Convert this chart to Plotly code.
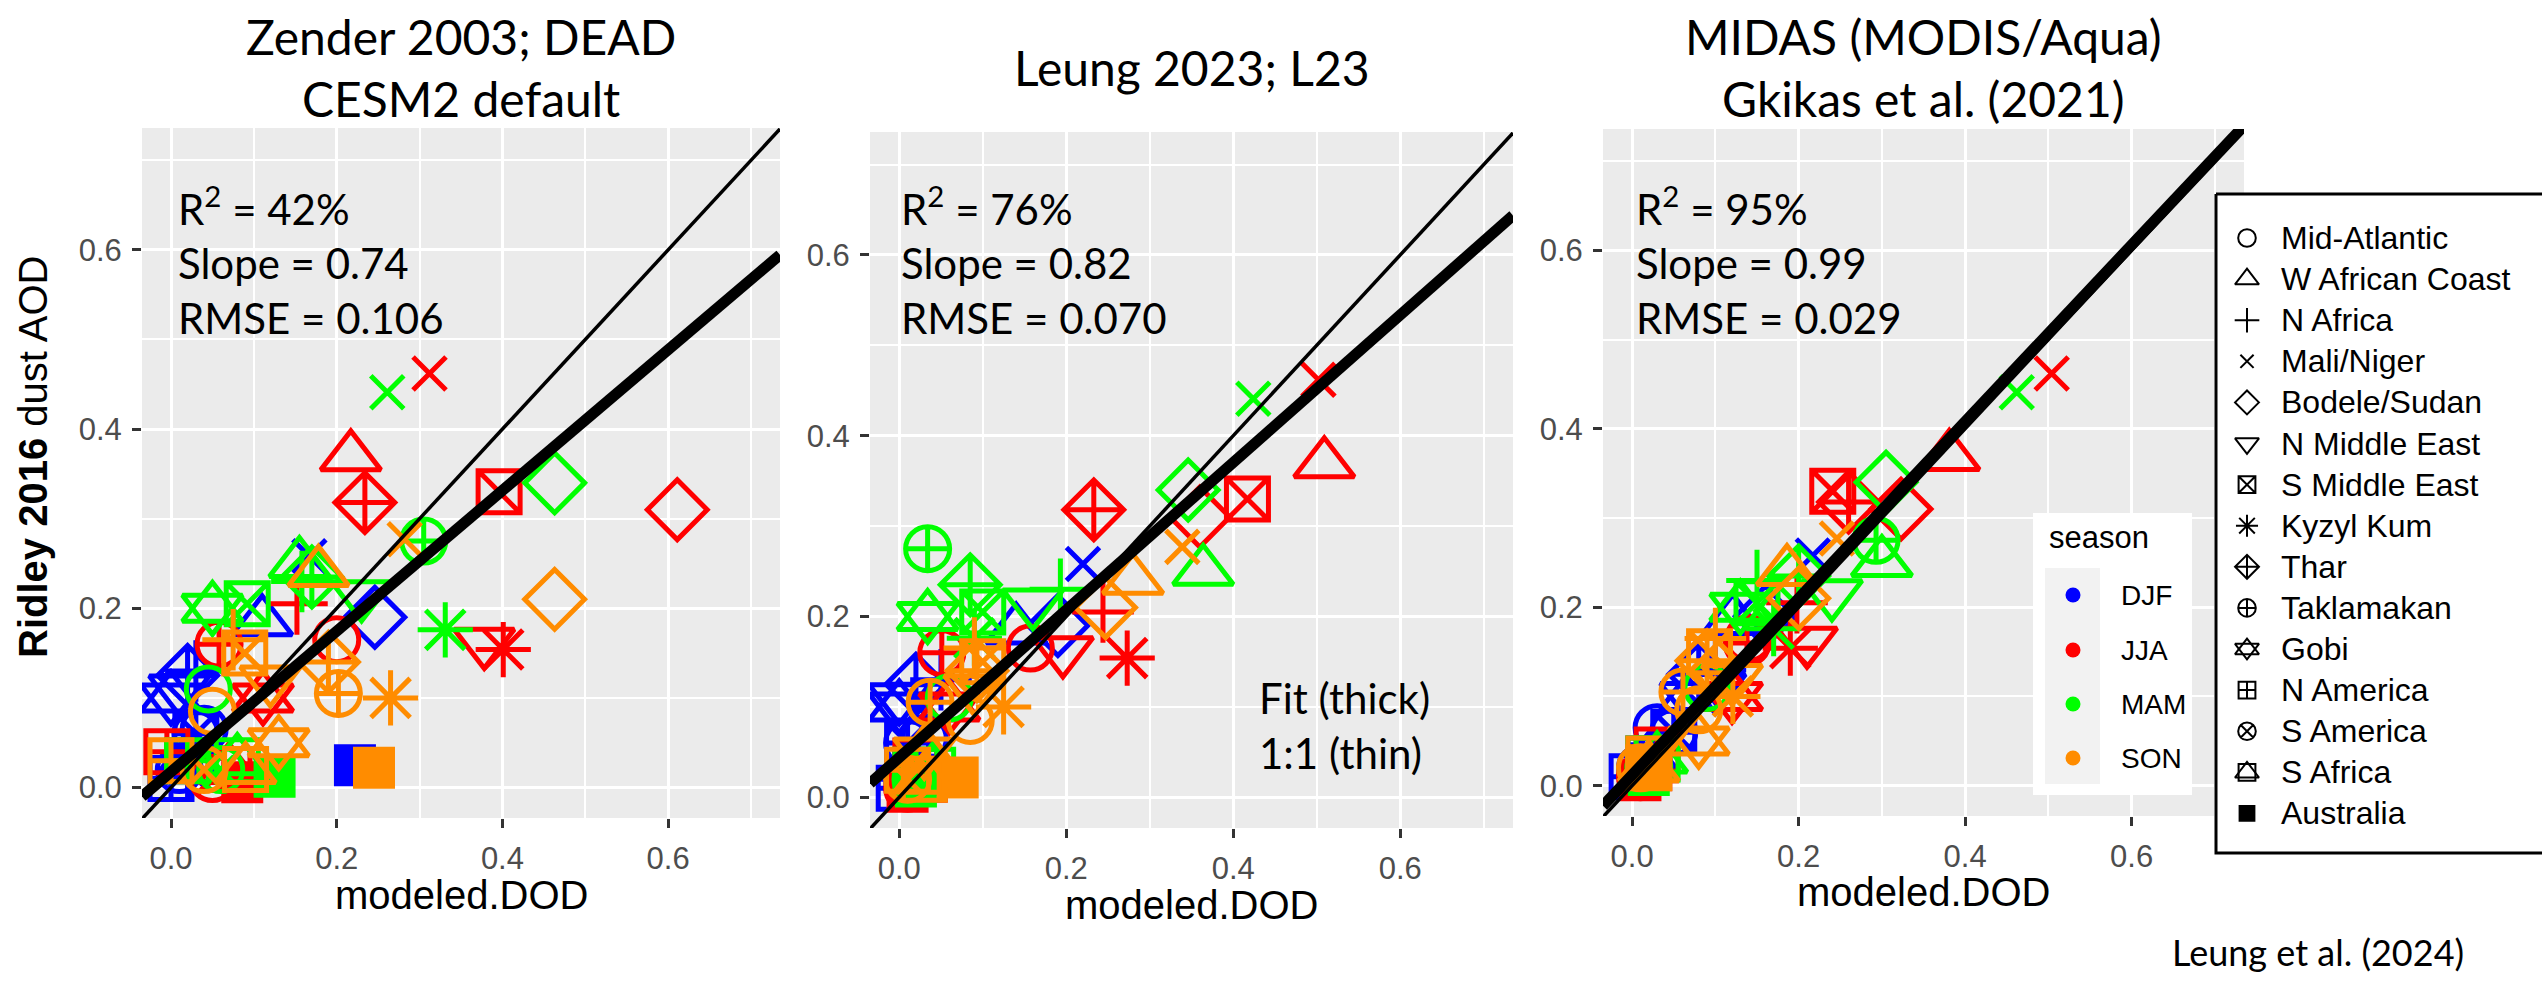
import plotly.graph_objects as go

W, H = 2542, 987

# ---------------- data ----------------
regions = ["Mid-Atlantic", "W African Coast", "N Africa", "Mali/Niger", "Bodele/Sudan",
           "N Middle East", "S Middle East", "Kyzyl Kum", "Thar", "Taklamakan",
           "Gobi", "N America", "S America", "S Africa", "Australia"]
seasons = ["DJF", "JJA", "MAM", "SON"]

# observed (Ridley 2016) dust AOD, per season, region order as above
obs_djf = [0.065, 0.185, 0.13, 0.258, 0.19, 0.11, 0.06, 0.02, 0.125, 0.06, 0.10, 0.01, 0.02, 0.03, 0.025]
obs_jja = [0.165, 0.369, 0.205, 0.462, 0.31, 0.162, 0.33, 0.154, 0.318, 0.16, 0.10, 0.04, 0.01, 0.02, 0.006]
obs_mam = [0.11, 0.25, 0.23, 0.441, 0.34, 0.215, 0.205, 0.176, 0.235, 0.275, 0.20, 0.03, 0.02, 0.03, 0.012]
obs_son = [0.085, 0.24, 0.165, 0.277, 0.21, 0.12, 0.15, 0.10, 0.14, 0.105, 0.05, 0.03, 0.02, 0.02, 0.022]

# modeled DOD, panel 1 (Zender 2003; DEAD)
dead_djf = [0.04, 0.11, 0.03, 0.167, 0.246, 0.01, 0.03, 0.02, 0.02, 0.03, 0.0, 0.0, 0.01, 0.02, 0.222]
dead_jja = [0.20, 0.217, 0.152, 0.312, 0.611, 0.378, 0.396, 0.401, 0.234, 0.058, 0.111, -0.005, 0.05, 0.07, 0.086]
dead_mam = [0.045, 0.155, 0.158, 0.261, 0.463, 0.23, 0.092, 0.331, 0.17, 0.305, 0.05, 0.02, 0.06, 0.08, 0.125]
dead_son = [0.05, 0.178, 0.075, 0.282, 0.463, 0.12, 0.089, 0.265, 0.19, 0.202, 0.13, 0.0, 0.04, 0.09, 0.245]

# modeled DOD, panel 2 (Leung 2023; L23)
l23_djf = [0.03, 0.14, 0.05, 0.22, 0.19, 0.0, 0.01, 0.01, 0.02, 0.01, 0.0, 0.0, 0.01, 0.02, 0.03]
l23_jja = [0.157, 0.509, 0.244, 0.502, 0.36, 0.196, 0.417, 0.273, 0.233, 0.051, 0.06, 0.02, 0.01, 0.03, 0.01]
l23_mam = [0.06, 0.364, 0.193, 0.424, 0.346, 0.16, 0.10, 0.09, 0.085, 0.034, 0.034, 0.02, 0.02, 0.04, 0.02]
l23_son = [0.085, 0.28, 0.09, 0.339, 0.247, 0.09, 0.10, 0.125, 0.093, 0.037, 0.03, 0.01, 0.01, 0.03, 0.07]

# MIDAS DOD, panel 3
midas_djf = [0.03, 0.121, 0.10, 0.217, 0.16, 0.10, 0.05, 0.02, 0.08, 0.05, 0.07, 0.0, 0.01, 0.02, 0.02]
midas_jja = [0.14, 0.381, 0.198, 0.504, 0.323, 0.21, 0.241, 0.19, 0.26, 0.138, 0.12, 0.03, 0.01, 0.02, 0.01]
midas_mam = [0.09, 0.30, 0.15, 0.462, 0.305, 0.24, 0.15, 0.17, 0.20, 0.293, 0.13, 0.02, 0.02, 0.03, 0.02]
midas_son = [0.08, 0.186, 0.10, 0.246, 0.20, 0.12, 0.093, 0.121, 0.09, 0.061, 0.08, 0.02, 0.01, 0.02, 0.02]

panel_titles = ["Zender 2003; DEAD<br>CESM2 default", "Leung 2023; L23",
                "MIDAS (MODIS/Aqua)<br>Gkikas et al. (2021)"]
r2_text = ["42%", "76%", "95%"]
slope_text = ["0.74", "0.82", "0.99"]
rmse_text = ["0.106", "0.070", "0.029"]
fit_slope = [0.785, 0.816, 0.99]
fit_intercept = [0.0175, 0.044, 0.012]
tick_vals = [0.0, 0.2, 0.4, 0.6]
tick_text = ["0.0", "0.2", "0.4", "0.6"]
minor_vals = [0.1, 0.3, 0.5, 0.7]
x_title = "modeled.DOD"
y_title = "<b>Ridley 2016</b> dust AOD"
credit = "Leung et al. (2024)"
fit_note = "Fit (thick)<br>1:1 (thin)"
legend_title = "season"

obs = {"DJF": obs_djf, "JJA": obs_jja, "MAM": obs_mam, "SON": obs_son}
panel_x = [
    {"DJF": dead_djf, "JJA": dead_jja, "MAM": dead_mam, "SON": dead_son},
    {"DJF": l23_djf, "JJA": l23_jja, "MAM": l23_mam, "SON": l23_son},
    {"DJF": midas_djf, "JJA": midas_jja, "MAM": midas_mam, "SON": midas_son},
]

# ---------------- style ----------------
season_colors = {"DJF": "#0000FF", "JJA": "#FF0000", "MAM": "#00FF00", "SON": "#FF8C00"}
region_layers = [
    ["circle-open"], ["triangle-up-open"], ["cross-thin-open"], ["x-thin-open"],
    ["diamond-open"], ["triangle-down-open"], ["square-x-open"], ["asterisk-open"],
    ["diamond-cross-open"], ["circle-cross-open"], ["triangle-up-open", "triangle-down-open"],
    ["square-cross-open"], ["circle-x-open"], ["square-open", "triangle-up-open"], ["square"],
]
sym_size = {
    "circle-open": 44, "circle-cross-open": 44, "circle-x-open": 44,
    "triangle-up-open": 52, "triangle-down-open": 52,
    "cross-thin-open": 44, "x-thin-open": 33, "asterisk-open": 46,
    "diamond-open": 46, "diamond-cross-open": 46,
    "square-open": 42, "square-x-open": 42, "square-cross-open": 42, "square": 37,
}
CAL = "Lato, 'Open Sans', sans-serif"
ARI = "'Liberation Sans', Arial, sans-serif"
panel_px = [(142, 780, 128, 818), (870, 1513, 132, 828), (1603, 2244, 129, 816)]
x_range = [-0.035, 0.735]
y_range = [-0.034, 0.736]


def px(x):
    return x / W


def py(y):
    return 1 - y / H


fig = go.Figure()
layout = dict(width=W, height=H, margin=dict(l=0, r=0, t=0, b=0),
              paper_bgcolor="white", plot_bgcolor="rgba(0,0,0,0)", showlegend=False)
shapes = []
annotations = []

for p in range(3):
    sfx = "" if p == 0 else str(p + 1)
    xa, ya = "x" + sfx, "y" + sfx
    x0, x1, y0, y1 = panel_px[p]
    common = dict(ticks="outside", ticklen=9, tickwidth=3, tickcolor="#333333",
                  showgrid=True, gridcolor="white", gridwidth=3, zeroline=False,
                  showline=False, tickvals=tick_vals, ticktext=tick_text,
                  tickfont=dict(family=ARI, size=31, color="#4D4D4D"),
                  minor=dict(tickvals=minor_vals, showgrid=True, gridcolor="white",
                             gridwidth=1.5, ticks=""),
                  fixedrange=True, ticklabelstandoff=4)
    layout["xaxis" + sfx] = dict(common, domain=[px(x0), px(x1)], range=x_range, anchor=ya)
    layout["yaxis" + sfx] = dict(common, domain=[py(y1), py(y0)], range=y_range, anchor=xa)
    shapes.append(dict(type="rect", xref=xa + " domain", yref=ya + " domain", x0=0, x1=1,
                       y0=0, y1=1, fillcolor="#EBEBEB", line=dict(width=0), layer="below"))

    for s in seasons:
        c = season_colors[s]
        xs = panel_x[p][s]
        ys = obs[s]
        for layer in range(2):
            idx = [i for i in range(len(regions)) if len(region_layers[i]) > layer]
            syms = [region_layers[i][layer] for i in idx]
            fig.add_trace(go.Scatter(
                x=[xs[i] for i in idx], y=[ys[i] for i in idx], mode="markers",
                xaxis=xa, yaxis=ya, hoverinfo="skip",
                marker=dict(symbol=syms, size=[sym_size[q] for q in syms], color=c,
                            opacity=1, line=dict(color=c, width=5))))

    # 1:1 line (thin) and fit line (thick)
    fig.add_trace(go.Scatter(x=x_range, y=x_range, mode="lines", xaxis=xa, yaxis=ya,
                             line=dict(color="black", width=3.5), hoverinfo="skip"))
    fig.add_trace(go.Scatter(x=x_range,
                             y=[fit_intercept[p] + fit_slope[p] * v for v in x_range],
                             mode="lines", xaxis=xa, yaxis=ya,
                             line=dict(color="black", width=11), hoverinfo="skip"))

    # titles
    annotations.append(dict(text=panel_titles[p], x=px((x0 + x1) / 2), y=py(68),
                            xref="paper", yref="paper", xanchor="center", yanchor="middle",
                            showarrow=False, font=dict(family=CAL, size=48, color="black")))
    # stats
    stat_x = [176, 899, 1634][p]
    annotations.append(dict(
        text=f"R<sup>2</sup> = {r2_text[p]}<br>Slope = {slope_text[p]}<br>RMSE = {rmse_text[p]}",
        x=px(stat_x), y=py(261), xref="paper", yref="paper", xanchor="left",
        yanchor="middle", align="left", showarrow=False,
        font=dict(family=CAL, size=42, color="black")))
    # x title
    annotations.append(dict(text=x_title, x=px((x0 + x1) / 2), y=py([895, 905, 892][p]),
                            xref="paper", yref="paper", xanchor="center", yanchor="middle",
                            showarrow=False, font=dict(family=ARI, size=40, color="black")))

annotations.append(dict(text=y_title, x=px(33), y=py(457), xref="paper", yref="paper",
                        xanchor="center", yanchor="middle", textangle=-90, showarrow=False,
                        font=dict(family=ARI, size=40, color="black")))
annotations.append(dict(text=fit_note, x=px(1257), y=py(725), xref="paper", yref="paper",
                        xanchor="left", yanchor="middle", align="left", showarrow=False,
                        font=dict(family=CAL, size=42, color="black")))
annotations.append(dict(text=credit, x=px(2318), y=py(952), xref="paper", yref="paper",
                        xanchor="center", yanchor="middle", showarrow=False,
                        font=dict(family=CAL, size=36, color="black")))

# ---------------- legends (overlay axis in pixel units) ----------------
layout["xaxis4"] = dict(domain=[0, 1], range=[0, W], visible=False, fixedrange=True, anchor="y4")
layout["yaxis4"] = dict(domain=[0, 1], range=[H, 0], visible=False, fixedrange=True, anchor="x4")

# shape legend box
fig.add_trace(go.Scatter(x=[2216, 2600, 2600, 2216, 2216], y=[194, 194, 853, 853, 194],
                         mode="lines", fill="toself", fillcolor="white",
                         line=dict(color="black", width=3), xaxis="x4", yaxis="y4",
                         hoverinfo="skip"))
row_y = [238 + 41.1 * i for i in range(len(regions))]
for layer in range(2):
    idx = [i for i in range(len(regions)) if len(region_layers[i]) > layer]
    syms = [region_layers[i][layer] for i in idx]
    fig.add_trace(go.Scatter(
        x=[2247] * len(idx), y=[row_y[i] for i in idx], mode="markers", xaxis="x4",
        yaxis="y4", hoverinfo="skip",
        marker=dict(symbol=syms, size=[sym_size[q] * 0.4 for q in syms], color="black",
                    opacity=1, line=dict(color="black", width=2))))
for i, r in enumerate(regions):
    annotations.append(dict(text=r, x=px(2279), y=py(row_y[i]), xref="paper", yref="paper",
                            xanchor="left", yanchor="middle", showarrow=False,
                            font=dict(family=ARI, size=32, color="black")))

# season legend
fig.add_trace(go.Scatter(x=[2033, 2192, 2192, 2033, 2033], y=[513, 513, 795, 795, 513],
                         mode="lines", fill="toself", fillcolor="white",
                         line=dict(color="white", width=0), xaxis="x4", yaxis="y4",
                         hoverinfo="skip"))
fig.add_trace(go.Scatter(x=[2045, 2100, 2100, 2045, 2045], y=[568, 568, 784, 784, 568],
                         mode="lines", fill="toself", fillcolor="#F2F2F2",
                         line=dict(color="#F2F2F2", width=0), xaxis="x4", yaxis="y4",
                         hoverinfo="skip"))
season_y = [595, 650, 704, 758]
fig.add_trace(go.Scatter(x=[2073] * 4, y=season_y, mode="markers", xaxis="x4", yaxis="y4",
                         hoverinfo="skip",
                         marker=dict(symbol="circle", size=15, opacity=1,
                                     color=[season_colors[s] for s in seasons])))
annotations.append(dict(text=legend_title, x=px(2047), y=py(537), xref="paper", yref="paper",
                        xanchor="left", yanchor="middle", showarrow=False,
                        font=dict(family=ARI, size=31, color="black")))
for s, yv in zip(seasons, season_y):
    annotations.append(dict(text=s, x=px(2119), y=py(yv), xref="paper", yref="paper",
                            xanchor="left", yanchor="middle", showarrow=False,
                            font=dict(family=ARI, size=28, color="black")))

layout["shapes"] = shapes
layout["annotations"] = annotations
fig.update_layout(**layout)

fig.write_html("out.html", config={"displayModeBar": False},
               post_script="document.body.style.margin='0';document.body.style.overflow='hidden';")
